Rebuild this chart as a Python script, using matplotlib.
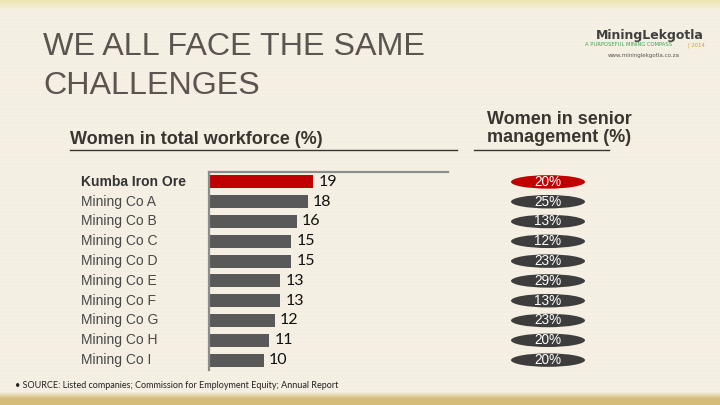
import numpy as np
import matplotlib
matplotlib.use("Agg")
import matplotlib.pyplot as plt
from matplotlib.patches import Ellipse
from matplotlib.transforms import blended_transform_factory

# Données
companies = ["Kumba Iron Ore", "Mining Co A", "Mining Co B", "Mining Co C", "Mining Co D",
             "Mining Co E", "Mining Co F", "Mining Co G", "Mining Co H", "Mining Co I"]
workforce = [19, 18, 16, 15, 15, 13, 13, 12, 11, 10]
senior = [20, 25, 13, 12, 23, 29, 13, 23, 20, 20]
highlight = "Kumba Iron Ore"

W, H = 720, 405
RED = "#c00000"
GREY = "#595959"
DARK = "#3d3d3d"

def fx(x):
    return x / W

def fy(y):
    return 1 - y / H

fig = plt.figure(figsize=(W / 100, H / 100), dpi=100)

# fond : crème avec bandes dorées en haut et en bas
bg = fig.add_axes([0, 0, 1, 1])
bg.set_axis_off()
top = np.array([0.94, 0.90, 0.70])
cream = np.array([0.965, 0.945, 0.895])
gold = np.array([0.84, 0.74, 0.48])
img = np.zeros((H, W, 3))
for r in range(H):
    if r < 10:
        t = r / 10
        c = top * (1 - t) + cream * t
    elif r > 391:
        t = min((r - 391) / 7, 1)
        c = cream * (1 - t) + gold * t
    else:
        c = cream - 0.01 * (0.5 + 0.5 * np.sin(r * 1.7))
    img[r, :, :] = c
bg.imshow(img, aspect="auto", extent=[0, 1, 0, 1])
bg.set_xlim(0, 1)
bg.set_ylim(0, 1)

# titre
fig.text(fx(43), fy(47), "WE ALL FACE THE SAME", fontsize=23.2, color="#5b5450",
         family="Liberation Sans", va="center", ha="left")
fig.text(fx(43), fy(86), "CHALLENGES", fontsize=23.2, color="#5b5450",
         family="Liberation Sans", va="center", ha="left")

# logo (texte seulement)
fig.text(fx(596), fy(36), "MiningLekgotla", fontsize=9, color="#404040",
         family="DejaVu Sans", weight="bold", va="center", ha="left")
fig.text(fx(585), fy(45), "A PURPOSEFUL MINING COMPASS", fontsize=3.8, color="#3aa655",
         family="DejaVu Sans", va="center", ha="left")
fig.text(fx(688), fy(45), "| 2014", fontsize=3.8, color="#d4a020",
         family="DejaVu Sans", va="center", ha="left")
fig.text(fx(608), fy(55), "www.mininglekgotla.co.za", fontsize=4, color="#555555",
         family="DejaVu Sans", va="center", ha="left")

# sous-titres
fig.text(fx(70), fy(139), "Women in total workforce (%)", fontsize=13, color="#3a3530",
         family="Liberation Sans", weight="bold", va="center", ha="left")
fig.text(fx(559), fy(119), "Women in senior", fontsize=13, color="#3a3530",
         family="Liberation Sans", weight="bold", va="center", ha="center")
fig.text(fx(559), fy(137), "management (%)", fontsize=13, color="#3a3530",
         family="Liberation Sans", weight="bold", va="center", ha="center")
bg.plot([fx(70), fx(457)], [fy(150), fy(150)], color="#3a3530", lw=1)
bg.plot([fx(474), fx(609)], [fy(150.5), fy(150.5)], color="#3a3530", lw=1)

# barres
ax = fig.add_axes([fx(209), fy(370), fx(448) - fx(209), (370 - 172) / H])
ax.patch.set_alpha(0)
ypos = np.arange(len(companies))
colors = [RED if c == highlight else GREY for c in companies]
ax.barh(ypos, workforce, height=0.65, color=colors)
ax.set_xlim(0, 43.5)
ax.set_ylim(len(companies) - 0.5, -0.5)
ax.set_xticks([])
ax.set_yticks([])
for s in ["right", "bottom"]:
    ax.spines[s].set_visible(False)
for s in ["top", "left"]:
    ax.spines[s].set_color("#8c8c8c")
    ax.spines[s].set_linewidth(1.6)

for i, v in enumerate(workforce):
    ax.text(v + 0.9, i, str(v), va="center", ha="left", fontsize=11.5, color="#111111",
            family="Lato")

trans = blended_transform_factory(fig.transFigure, ax.transData)
for i, c in enumerate(companies):
    bold = c == highlight
    ax.text(fx(81), i, c, transform=trans, va="center", ha="left", fontsize=10,
            color="#333333" if bold else "#484848",
            weight="bold" if bold else "normal", family="Liberation Sans")

# ellipses pour les cadres supérieurs
ax2 = fig.add_axes([fx(498), fy(370), 100 / W, (370 - 172) / H])
ax2.set_axis_off()
ax2.set_xlim(0, 1)
ax2.set_ylim(len(companies) - 0.5, -0.5)
for i, (c, v) in enumerate(zip(companies, senior)):
    col = RED if c == highlight else DARK
    ax2.add_patch(Ellipse((0.5, i), 0.74, 0.68, color=col, lw=0))
    ax2.text(0.5, i, f"{v}%", ha="center", va="center", color="white", fontsize=9.8,
             family="Liberation Sans")

# source
fig.text(fx(15), fy(385), "• SOURCE: Listed companies; Commission for Employment Equity; Annual Report",
         fontsize=6.5, color="#222222", family="Lato", va="center", ha="left")

fig.savefig("out.png", dpi=100)
